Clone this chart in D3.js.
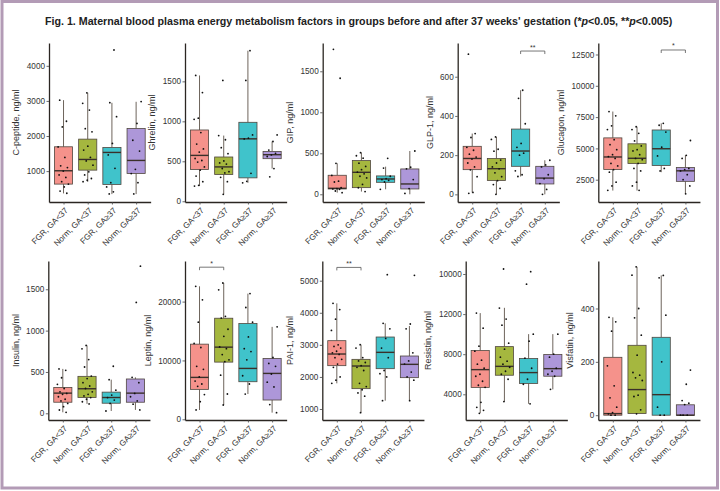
<!DOCTYPE html>
<html><head><meta charset="utf-8">
<script src="https://cdn.jsdelivr.net/npm/d3@7"></script>
<style>
body{margin:0;background:#fff;}
svg{display:block;font-family:"Liberation Sans",Arial,sans-serif;}
</style></head>
<body>
<svg id="chart" width="720" height="491"></svg>
<script>
// ---------- DATA ----------
const groups = ["FGR, GA<37", "Norm, GA<37", "FGR, GA≥37", "Norm, GA≥37"];
const panelTitles = ["C-peptide, ng/ml","Ghrelin, ng/ml","GIP, ng/ml","GLP-1, ng/ml","Glucagon, ng/ml",
  "Insulin, ng/ml","Leptin, ng/ml","PAI-1, ng/ml","Resistin, ng/ml","Visfatin, ng/ml"];

const cpeptideTicks = [1000,2000,3000,4000];
const ghrelinTicks = [0,500,1000,1500];
const gipTicks = [0,500,1000,1500];
const glp1Ticks = [0,200,400,600];
const glucagonTicks = [2500,5000,7500,10000,12500];
const insulinTicks = [0,500,1000,1500];
const leptinTicks = [0,10000,20000];
const pai1Ticks = [1000,2000,3000,4000,5000];
const resistinTicks = [4000,8000,12000,16000];
const resistinTickLabels = ["4000","8000","12000","10000"];
const visfatinTicks = [0,200,400];

// y extents of each panel
const yExtents = [[120,4650],[-9,1980],[-94,1845],[-39,772],[719,13418],
  [-81,1842],[-120,26900],[657,5614],[1436,17297],[-18,578]];

// box stats per group: [lower whisker, q1, median, q3, upper whisker]
const cpeptideBox = [[364,630,1010,1693,3022],[696,1028,1332,1911,3231],[345,620,1532,1674,2946],[345,934,1304,2215,2975]];
const ghrelinBox = [[190,397,574,892,1574],[87,335,430,554,822],[231,293,781,988,1884],[409,533,583,624,748]];
const gipBox = [[20,65,73,232,378],[33,81,268,411,508],[61,146,187,224,337],[0,65,126,309,528]];
const glp1Box = [[9,126,183,245,310],[0,71,131,183,293],[91,143,221,333,531],[0,53,83,143,174]];
const glucagonBox = [[1632,3315,4315,5840,7945],[1632,3789,4210,5367,6734],[3100,3631,4972,6471,7000],[1369,2368,3210,3473,4446]];
const insulinBox = [[12,134,244,313,537],[114,191,297,447,821],[28,122,191,256,407],[41,134,244,415,435]];
const leptinBox = [[1582,5085,7119,12770,22600],[2430,9718,12260,17176,23165],[4294,6385,8645,16272,21357],[1130,3277,7797,10340,15707]];
const pai1Box = [[1800,2351,2714,3130,4294],[886,1634,2340,2548,3005],[1260,2257,2766,3244,3670],[1260,1977,2392,2652,3587]];
const resistinBox = [[2130,4689,6460,8362,12100],[3278,5902,6788,8756,12626],[3049,5082,6165,7575,10002],[4492,5804,6558,7969,10002]];
const visfatinBox = [[0,0,6,217,367],[6,6,96,262,556],[0,0,77,292,524],[0,0,0,39,39]];

// individual observations per group
const cpeptidePts = [
  [3020,2420,2260,1690,1390,1150,1100,1000,890,820,700,630,550,430,370],
  [3230,2930,2740,2210,2120,1710,1600,1390,1290,1170,980,890,790,740,700],
  [4450,2950,2550,1790,1460,1080,670,550,410,350],
  [2980,2360,1880,1570,1050,930,670,350]];
const ghrelinPts = [
  [1574,1360,1040,1025,860,715,655,615,535,510,490,430,390,315,245,200,190],
  [1512,822,770,670,595,505,480,465,410,370,355,300,245,87],
  [1884,1512,830,790,780,350,250,231],
  [830,748,640,600,580,560,409,306]];
const gipPts = [
  [1768,1415,378,230,160,150,80,70,65,60,40,20],
  [508,470,440,380,340,300,270,250,220,200,120,80,33],
  [439,320,220,190,180,170,150,61],
  [528,330,310,180,70,10]];
const glp1Pts = [
  [715,310,290,240,225,205,190,180,160,140,125,90,10,5],
  [293,280,230,220,175,160,140,130,110,90,70,50,30,0],
  [531,490,360,260,240,210,200,120,100,91],
  [174,150,140,100,80,55,25,0]];
const glucagonPts = [
  [7945,7600,6800,6500,5700,5300,4900,4500,4350,4200,3800,3600,3300,3100,2300,2000,1650],
  [6730,6500,6200,5600,5200,4900,4800,4500,4200,4100,3800,3400,3200,2300,2000,1650],
  [7000,6850,6300,5100,4400,3400,3200],
  [5630,4450,4200,3400,3300,3200,2900,2500,2000,1370]];
const insulinPts = [
  [537,520,430,350,300,260,240,230,200,170,150,120,80,40,12],
  [821,780,650,560,450,420,370,330,300,260,230,210,190,170,140,114],
  [569,407,280,220,190,160,120,28],
  [1780,1341,435,370,240,200,150,110,41]];
const leptinPts = [
  [22600,20300,16500,12900,12200,9000,8500,7200,6500,6000,5600,4200,3000,1600],
  [23165,22000,17500,17200,15300,14100,12300,12000,11000,10100,9800,7500,4300,2430],
  [21357,19000,16500,14000,12000,11500,10100,7400,6000,4294],
  [15707,10500,9500,9000,7700,6300,5500,2500,1130]];
const pai1Pts = [
  [4294,4100,3800,3450,3000,2950,2900,2800,2750,2700,2600,2550,2400,2300,2000,1900,1800],
  [3005,2900,2600,2500,2450,2350,2300,2200,1800,1700,1600,1500,1400,886],
  [5187,3670,3500,3200,2900,2600,2200,2100,2000,1260],
  [5166,3650,3500,2750,2500,2400,2150,2000,1900,1260]];
const resistinPts = [
  [12100,10600,8800,8300,7400,7000,6600,6000,5800,5300,4900,4700,3200,2700,2400,2100],
  [16500,12600,11500,10900,9100,8500,7700,7300,7000,6700,6300,6000,5500,3278],
  [16234,14990,10000,9300,7600,6600,5500,5000,3049],
  [10000,8000,7700,6600,6300,6000,5800,4500]];
const visfatinPts = [
  [367,350,315,185,110,65,30,10,5,0,0],
  [556,525,400,365,300,225,160,150,140,130,75,70,20,5],
  [524,515,375,200,30,0,0],
  [169,116,55,45,40,0,0,0]];

// significance brackets: panel index, group from, group to, y value, label
const sigPanel = [3, 4, 6, 7];
const sigFrom = [2, 2, 0, 0];
const sigTo = [3, 3, 1, 1];
const sigY = [731, 12860, 25850, 5414];
const sigLabel = ["**", "*", "*", "**"];

// ---------- LAYOUT ----------
const colors = ["#f5928b", "#a5b73f", "#40c3cb", "#ad97d9"];
const plotLefts = [49,185,322.7,457.7,598.3, 48.3,185,322.3,465.7,598.3];
const rowTop = [43, 261], rowBottom = [202, 420];
const step = 24.2;

const allTicks = [cpeptideTicks,ghrelinTicks,gipTicks,glp1Ticks,glucagonTicks,insulinTicks,leptinTicks,pai1Ticks,resistinTicks,visfatinTicks];
const allBox = [cpeptideBox,ghrelinBox,gipBox,glp1Box,glucagonBox,insulinBox,leptinBox,pai1Box,resistinBox,visfatinBox];
const allPts = [cpeptidePts,ghrelinPts,gipPts,glp1Pts,glucagonPts,insulinPts,leptinPts,pai1Pts,resistinPts,visfatinPts];

const svg = d3.select("#chart");
svg.append("rect").attr("x",0).attr("y",0).attr("width",720).attr("height",491).attr("fill","#fff");
svg.append("rect").attr("x",2).attr("y",1.5).attr("width",715.5).attr("height",486.5)
  .attr("fill","none").attr("stroke","#b39bb6").attr("stroke-width",3);

// title, condensed by horizontal scaling to the reference width
const titleG = svg.append("g");
const title = titleG.append("text").attr("x",0).attr("y",0).attr("font-size",11).attr("font-weight","bold").attr("fill","#222");
title.append("tspan").text("Fig. 1. Maternal blood plasma energy metabolism factors in groups before and after 37 weeks' gestation (*");
title.append("tspan").attr("font-style","italic").text("p");
title.append("tspan").text("<0.05, **");
title.append("tspan").attr("font-style","italic").text("p");
title.append("tspan").text("<0.005)");
const tw = title.node().getComputedTextLength();
titleG.attr("transform",`translate(45,25) scale(${628/tw},1)`);

const fontSize = 8.2;
const titleSize = 9;
const textColor = "#333";

for (let p = 0; p < 10; p++) {
  const row = p < 5 ? 0 : 1;
  const left = plotLefts[p];
  const right = left + 4.2 * step;
  const top = rowTop[row], bottom = rowBottom[row];
  const y = d3.scaleLinear().domain(yExtents[p]).range([bottom, top]);
  const x = d3.scalePoint().domain(groups).range([left + 0.6*step, right - 0.6*step]);
  const g = svg.append("g");

  // y axis
  const yAxis = d3.axisLeft(y).tickValues(allTicks[p]).tickSize(2.5).tickSizeOuter(0).tickPadding(1.5);
  if (p === 8) yAxis.tickFormat((d,i) => resistinTickLabels[i]);
  else yAxis.tickFormat(d3.format("d"));
  const ya = g.append("g").attr("transform",`translate(${left},0)`).call(yAxis);
  ya.select(".domain").attr("stroke","#2b2622").attr("stroke-width",1.3);
  ya.selectAll(".tick line").attr("stroke","#444").attr("stroke-width",0.8);
  ya.selectAll(".tick text").attr("font-size",fontSize).attr("fill",textColor).attr("font-family","Liberation Sans, Arial, sans-serif");
  let maxW = 0;
  ya.selectAll(".tick text").each(function(){ maxW = Math.max(maxW, this.getBBox().width); });

  // x axis
  const xa = g.append("g").attr("transform",`translate(0,${bottom})`)
    .call(d3.axisBottom(d3.scaleLinear().range([left,right])).tickValues([]).tickSizeOuter(0));
  xa.select(".domain").attr("stroke","#2b2622").attr("stroke-width",1.3);
  const xt = g.append("g").attr("transform",`translate(0,${bottom})`).call(d3.axisBottom(x).tickSize(2.5).tickSizeOuter(0));
  xt.select(".domain").remove();
  xt.selectAll(".tick line").attr("stroke","#444").attr("stroke-width",0.8);
  xt.selectAll(".tick text").attr("font-size",fontSize).attr("fill",textColor)
    .attr("font-family","Liberation Sans, Arial, sans-serif")
    .attr("text-anchor","end").attr("y",0).attr("dy","0.35em")
    .attr("transform","translate(2.5,7) rotate(-45)");

  // y title
  const tx = left - 2.5 - 1.5 - maxW - 7;
  g.append("text").attr("transform",`translate(${tx},${(top+bottom)/2}) rotate(-90)`)
    .attr("text-anchor","middle").attr("font-size",titleSize).attr("fill",textColor).text(panelTitles[p]);

  // boxes
  const bw = 0.75 * step;
  groups.forEach((grp, gi) => {
    const s = allBox[p][gi];
    const cx = x(grp);
    g.append("line").attr("x1",cx).attr("x2",cx).attr("y1",y(s[0])).attr("y2",y(s[1]))
      .attr("stroke","#6e655c").attr("stroke-width",1);
    g.append("line").attr("x1",cx).attr("x2",cx).attr("y1",y(s[3])).attr("y2",y(s[4]))
      .attr("stroke","#6e655c").attr("stroke-width",1);
    g.append("rect").attr("x",cx-bw/2).attr("width",bw).attr("y",y(s[3])).attr("height",Math.max(0.5, y(s[1])-y(s[3])))
      .attr("fill",colors[gi]).attr("stroke","#50463f").attr("stroke-width",0.8);
    g.append("line").attr("x1",cx-bw/2).attr("x2",cx+bw/2).attr("y1",y(s[2])).attr("y2",y(s[2]))
      .attr("stroke","#3a302a").attr("stroke-width",1.4);
    // points
    allPts[p][gi].forEach((v, i) => {
      const frac = ((i * 0.618034 + gi * 0.27 + 0.15) % 1) - 0.5;
      g.append("circle").attr("cx", cx + frac * 0.45 * step).attr("cy", y(v)).attr("r",0.9).attr("fill","#111");
    });
  });

  // significance
  sigPanel.forEach((sp, k) => {
    if (sp !== p) return;
    const x1 = x(groups[sigFrom[k]]), x2 = x(groups[sigTo[k]]), yy = y(sigY[k]);
    g.append("path").attr("d",`M${x1},${yy+3}V${yy}H${x2}V${yy+3}`).attr("fill","none")
      .attr("stroke","#555").attr("stroke-width",0.8);
    g.append("text").attr("x",(x1+x2)/2).attr("y",yy-1.5).attr("text-anchor","middle")
      .attr("font-size",7).attr("fill","#333").text(sigLabel[k]);
  });
}
</script>
</body></html>
